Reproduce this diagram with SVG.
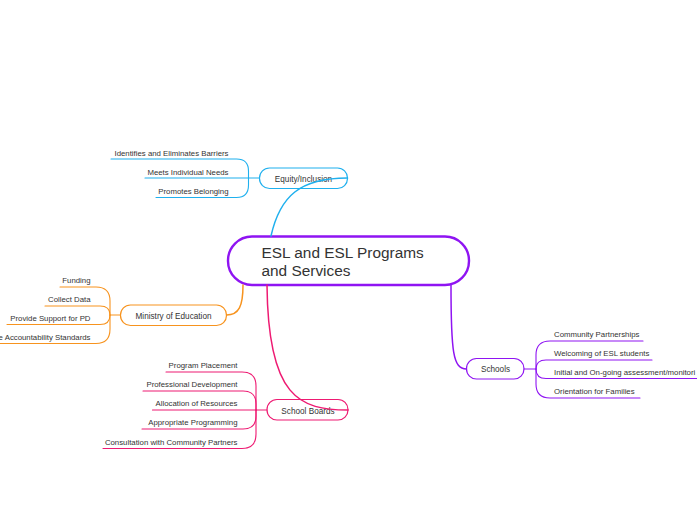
<svg xmlns="http://www.w3.org/2000/svg" width="697" height="520" viewBox="0 0 697 520">
<style>
text{font-family:"Liberation Sans",Arial,sans-serif;fill:#333;}
.t{font-size:7.8px;}
.n{font-size:8.2px;text-anchor:middle;}
.m{font-size:15.4px;}
.e{text-anchor:end;}
.c{fill:none;stroke-linecap:round;}
.cy{stroke:#1fb0ee;}
.or{stroke:#f7931e;}
.pk{stroke:#ee1a72;}
.pu{stroke:#8f14f2;}
.w1{stroke-width:1.1;}
.w2{stroke-width:1.5;}
.box{fill:#fff;stroke-width:1.2;}
</style>
<rect width="697" height="520" fill="#fff"/>
<g id="main">
<rect x="228" y="236.5" width="241" height="48.5" rx="24" fill="#fff" stroke="#8f14f2" stroke-width="2.4"/>
<text class="m" x="261.5" y="257.5">ESL and ESL Programs</text>
<text class="m" x="261.5" y="276">and Services</text>
</g>
<g id="equity">
<rect class="box cy" x="259.5" y="168" width="88" height="20.5" rx="10"/>
<text class="n" x="303.5" y="181.5">Equity/Inclusion</text>
<text class="t e" x="228.5" y="155.5">Identifies and Eliminates Barriers</text>
<text class="t e" x="228.5" y="174.5">Meets Individual Needs</text>
<text class="t e" x="228.5" y="193.5">Promotes Belonging</text>
</g>
<g id="ministry">
<rect class="box or" x="120.5" y="305" width="106" height="20.5" rx="10"/>
<text class="n" x="173.5" y="318.5">Ministry of Education</text>
<text class="t e" x="90.5" y="283">Funding</text>
<text class="t e" x="90.5" y="302">Collect Data</text>
<text class="t e" x="90.5" y="321">Provide Support for PD</text>
<text class="t e" x="90.5" y="340">e Accountability Standards</text>
</g>
<g id="boards">
<rect class="box pk" x="267" y="399.5" width="81" height="20.5" rx="10"/>
<text class="n" x="308" y="413.5">School Boards</text>
<text class="t e" x="237.5" y="368">Program Placement</text>
<text class="t e" x="237.5" y="387">Professional Development</text>
<text class="t e" x="237.5" y="406">Allocation of Resources</text>
<text class="t e" x="237.5" y="425">Appropriate Programming</text>
<text class="t e" x="237.5" y="444.5">Consultation with Community Partners</text>
</g>
<g id="schools">
<rect class="box pu" x="466.5" y="358.5" width="57.5" height="20.5" rx="10"/>
<text class="n" x="495.5" y="372">Schools</text>
<text class="t" x="554" y="337">Community Partnerships</text>
<text class="t" x="554" y="356">Welcoming of ESL students</text>
<text class="t" x="554" y="375">Initial and On-going assessment/monitori</text>
<text class="t" x="554" y="394">Orientation for Families</text>
</g>
<g id="connectors">
<path class="c cy w2" d="M271,236 C280,196 300,178 347.5,178"/>
<path class="c or w2" d="M243,285 C243,306 239,315 226.5,315"/>
<path class="c pk w2" d="M267,285 C268,398 300,410 348,410"/>
<path class="c pu w2" d="M451,285 C451,352 453,369 466.5,369"/>
<g class="c cy w1">
<path d="M259.5,178 L248.5,178"/>
<path d="M248.5,178 L248.5,171 Q248.5,159 236.5,159 L111,159"/>
<path d="M248.5,178 L145,178"/>
<path d="M248.5,178 L248.5,185 Q248.5,197.5 236.5,197.5 L156,197.5"/>
</g>
<g class="c or w1">
<path d="M120.5,315 L110,315"/>
<path d="M110,315 L110,301 Q110,287 96,287 L60,287"/>
<path d="M110,315 Q110,306 100,306 L45,306"/>
<path d="M110,315 Q110,324.5 100,324.5 L7,324.5"/>
<path d="M110,315 L110,329 Q110,343.5 96,343.5 L0,343.5"/>
</g>
<g class="c pk w1">
<path d="M267,410 L256,410"/>
<path d="M256,410 L256,386 Q256,372 242,372 L166,372"/>
<path d="M256,410 L256,404 Q256,391 243,391 L143,391"/>
<path d="M256,410 L152.5,410"/>
<path d="M256,410 L256,416 Q256,429 243,429 L142,429"/>
<path d="M256,410 L256,434 Q256,448.5 242,448.5 L103,448.5"/>
</g>
<g class="c pu w1">
<path d="M524,369 L536,369"/>
<path d="M536,369 L536,355 Q536,341 550,341 L643,341"/>
<path d="M536,369 Q536,360 546,360 L652,360"/>
<path d="M536,369 Q536,378.5 546,378.5 L700,378.5"/>
<path d="M536,369 L536,384 Q536,398 550,398 L640,398"/>
</g>
</g>
</svg>
